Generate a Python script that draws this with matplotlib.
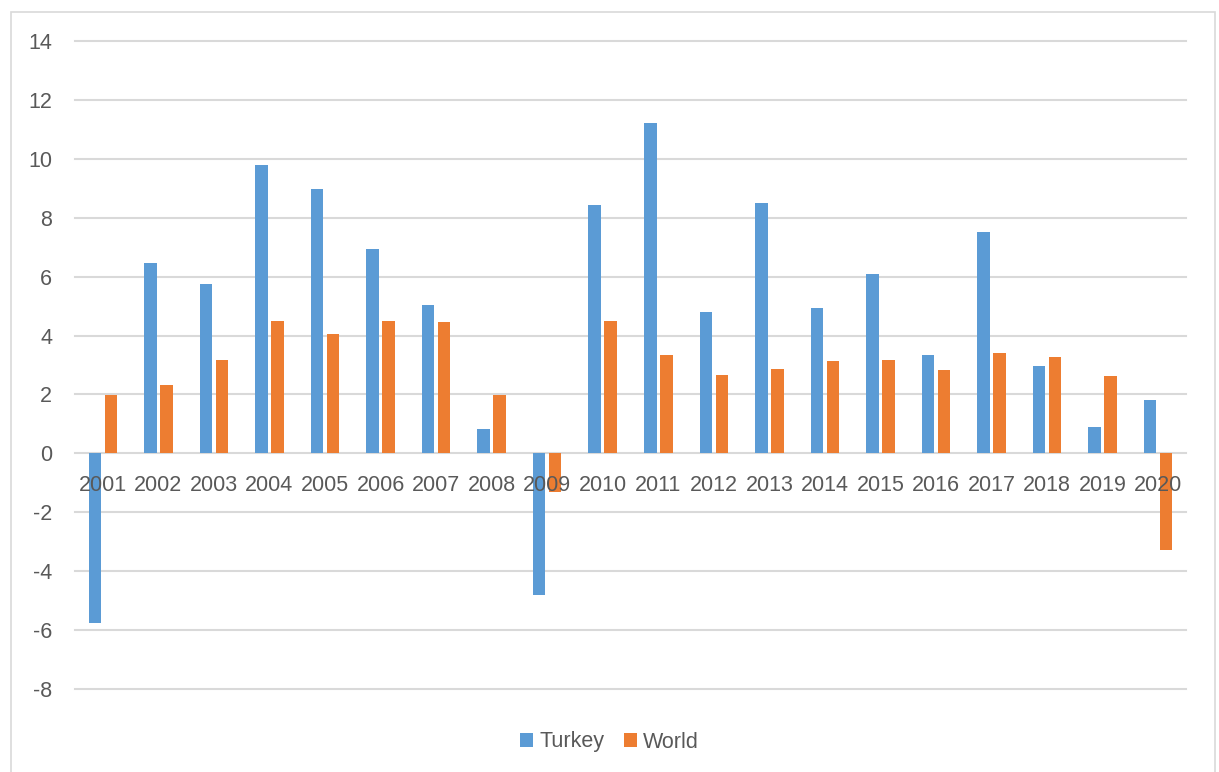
import matplotlib
matplotlib.use("Agg")
import matplotlib.pyplot as plt
import matplotlib.patches as mpatches
import numpy as np

years = [str(y) for y in range(2001, 2021)]
turkey = [-5.75, 6.45, 5.76, 9.79, 8.99, 6.95, 5.05, 0.82, -4.82, 8.42,
          11.21, 4.79, 8.50, 4.95, 6.08, 3.33, 7.51, 2.98, 0.89, 1.80]
world = [1.99, 2.33, 3.16, 4.49, 4.05, 4.50, 4.45, 1.99, -1.31, 4.50,
         3.35, 2.67, 2.85, 3.12, 3.18, 2.83, 3.41, 3.27, 2.61, -3.28]
yticks = list(range(-8, 15, 2))

BLUE = "#5B9BD5"
ORANGE = "#ED7D31"
GRID = "#D9D9D9"
TEXT = "#595959"

plt.rcParams['font.family'] = ['Liberation Sans', 'DejaVu Sans']
FS = 15.5

fig = plt.figure(figsize=(12.19, 7.72), dpi=100)
fig.patches.append(mpatches.Rectangle((11/1219, -0.01), (1215-11)/1219, 1 - 12/772 + 0.01,
                                      transform=fig.transFigure, fill=False,
                                      edgecolor=GRID, linewidth=1.2, zorder=0))
ax = fig.add_axes([75/1219, 1-689/772, (1186-75)/1219, (689-41)/772])

x = np.arange(len(years))
w = 0.225
off = 0.144
ax.bar(x - off, turkey, w, color=BLUE, label="Turkey", zorder=3)
ax.bar(x + off, world, w, color=ORANGE, label="World", zorder=3)

ax.set_xlim(-0.5, len(years) - 0.5)
ax.set_ylim(-8, 14)
ax.set_yticks(yticks)
ax.set_yticklabels([str(t) for t in yticks])
ax.yaxis.grid(True, color=GRID, linewidth=1.5)
ax.set_axisbelow(True)
for gl in ax.get_ygridlines():
    gl.set_clip_on(False)

for s in ['top', 'right', 'left']:
    ax.spines[s].set_visible(False)
ax.spines['bottom'].set_position(('data', 0))
ax.spines['bottom'].set_visible(False)

ax.set_xticks(x)
ax.set_xticklabels(years)
ax.tick_params(axis='x', length=0, pad=15.5, labelsize=FS, labelcolor=TEXT)
ax.tick_params(axis='y', length=0, pad=16.5, labelsize=FS, labelcolor=TEXT)
ax.xaxis.set_zorder(5)

fig.legend(loc='center', bbox_to_anchor=(0.5, 1 - 742/772), ncol=2, frameon=False,
           fontsize=FS, labelcolor=TEXT, handlelength=0.6, handleheight=0.6,
           handletextpad=0.3, columnspacing=0.9)

fig.savefig("out.png", dpi=100)
